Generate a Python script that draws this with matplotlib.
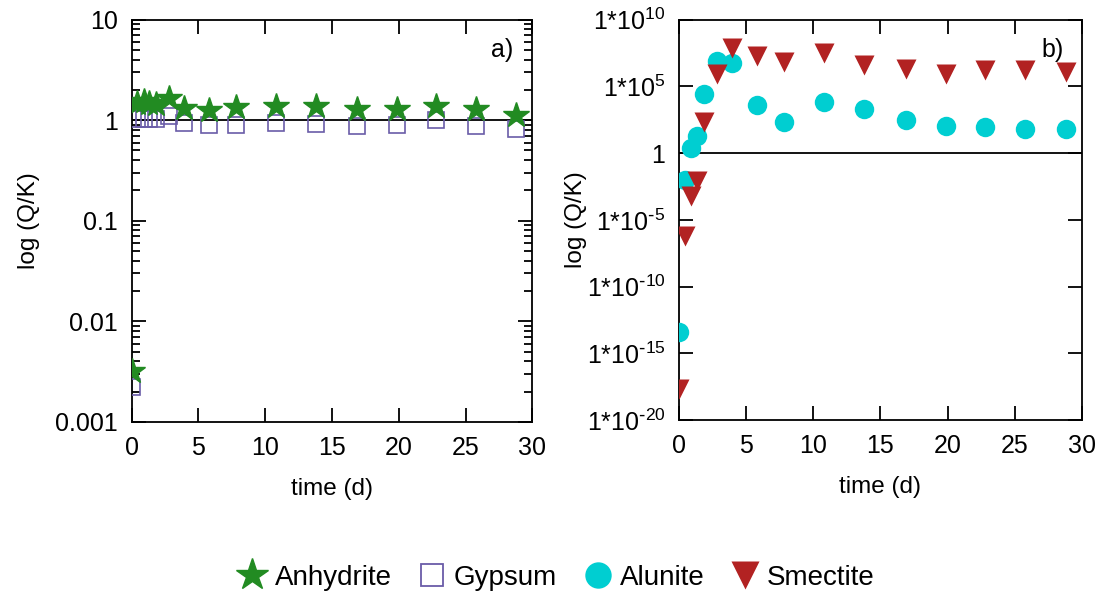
import numpy as np
import matplotlib
matplotlib.use('Agg')
import matplotlib.pyplot as plt
from matplotlib.ticker import FixedLocator, NullLocator, LogLocator, FixedFormatter

plt.rcParams['font.family'] = ['Liberation Sans', 'DejaVu Sans']
plt.rcParams['mathtext.default'] = 'regular'

# sampling times (d)
t = [0, 0.4, 0.9, 1.3, 1.8, 2.8, 3.9, 5.8, 7.8, 10.8, 13.8, 16.9, 19.9, 22.8, 25.8, 28.8]

# panel a) saturation indices as Q/K
anhydrite = [0.0032, 1.5, 1.55, 1.5, 1.45, 1.67, 1.33, 1.25, 1.35, 1.38, 1.40, 1.28, 1.28, 1.38, 1.30, 1.14]
gypsum = [0.0022, 1.03, 1.02, 1.02, 1.03, 1.10, 0.94, 0.89, 0.90, 0.94, 0.92, 0.87, 0.90, 1.00, 0.87, 0.81]

# panel b) log10(Q/K)
alunite_log = [-13.4, -2.05, 0.37, 1.3, 4.45, 6.9, 6.75, 3.6, 2.3, 3.85, 3.27, 2.47, 2.0, 1.98, 1.8, 1.8]
smectite_log = [-17.7, -6.2, -3.2, -2.1, 2.35, 5.9, 7.85, 7.3, 6.8, 7.5, 6.6, 6.3, 5.9, 6.2, 6.2, 6.1]

fig = plt.figure(figsize=(11.02, 5.97), dpi=100)
ax1 = fig.add_axes([0.1195, 0.2935, 0.3635, 0.6735])
ax2 = fig.add_axes([0.6165, 0.2965, 0.3650, 0.6705])

green = '#228B22'
purple = '#6A5CA8'
cyan = '#00CED1'
red = '#B22222'

def style(ax, ylabelpad):
    ax.tick_params(which='both', direction='in', top=True, right=True, labelsize=18, width=1.3, pad=10)
    ax.tick_params(which='major', length=10)
    ax.tick_params(which='minor', length=6)
    for s in ax.spines.values():
        s.set_linewidth(1.3)
    ax.set_xlim(0, 30)
    ax.set_xticks([0, 5, 10, 15, 20, 25, 30])
    ax.set_xlabel('time (d)', fontsize=17.5, labelpad=13)
    ax.set_ylabel('log (Q/K)', fontsize=17.5, labelpad=ylabelpad)

# a)
ax1.set_yscale('log')
ax1.set_ylim(0.001, 10)
ax1.yaxis.set_major_locator(FixedLocator([0.001, 0.01, 0.1, 1, 10]))
ax1.yaxis.set_major_formatter(FixedFormatter(['0.001', '0.01', '0.1', '1', '10']))
ax1.yaxis.set_minor_locator(LogLocator(base=10, subs=np.arange(2, 10)))
ax1.axhline(1, color='black', lw=1.3, zorder=1)
ax1.plot(t, gypsum, ls='none', marker='s', ms=12, mfc='none', mec=purple, mew=1.2, zorder=3)
ax1.plot(t, anhydrite, ls='none', marker='*', ms=19, color=green, zorder=4)
ax1.text(0.952, 0.955, 'a)', transform=ax1.transAxes, ha='right', va='top', fontsize=18)
style(ax1, 11)

# b)
ax2.set_ylim(-20, 10)
ax2.yaxis.set_major_locator(FixedLocator([-20, -15, -10, -5, 0, 5, 10]))
ax2.yaxis.set_major_formatter(FixedFormatter([r'1*10$^{\text{-}20}$', r'1*10$^{\text{-}15}$', r'1*10$^{\text{-}10}$',
                                             r'1*10$^{\text{-}5}$', '1', r'1*10$^{5}$', r'1*10$^{10}$']))
ax2.yaxis.set_minor_locator(NullLocator())
ax2.axhline(0, color='black', lw=1.3, zorder=1)
ax2.plot(t, alunite_log, ls='none', marker='o', ms=14, color=cyan, mec='none', zorder=3)
ax2.plot(t, smectite_log, ls='none', marker='v', ms=15, color=red, mec='none', zorder=4)
ax2.text(0.955, 0.955, 'b)', transform=ax2.transAxes, ha='right', va='top', fontsize=18)
style(ax2, 0)
ax2.xaxis.set_minor_locator(NullLocator())

handles = [
    plt.Line2D([], [], ls='none', marker='*', ms=24, color=green),
    plt.Line2D([], [], ls='none', marker='s', ms=16, mfc='none', mec=purple, mew=1.3),
    plt.Line2D([], [], ls='none', marker='o', ms=19, color=cyan, mec='none'),
    plt.Line2D([], [], ls='none', marker='v', ms=20, color=red, mec='none'),
]
fig.legend(handles, ['Anhydrite', 'Gypsum', 'Alunite', 'Smectite'], loc='center',
           bbox_to_anchor=(0.502, 0.032), ncol=4, frameon=False, fontsize=20,
           handletextpad=0.05, columnspacing=0.7, handlelength=1.5)

fig.savefig('out.png', dpi=100)
